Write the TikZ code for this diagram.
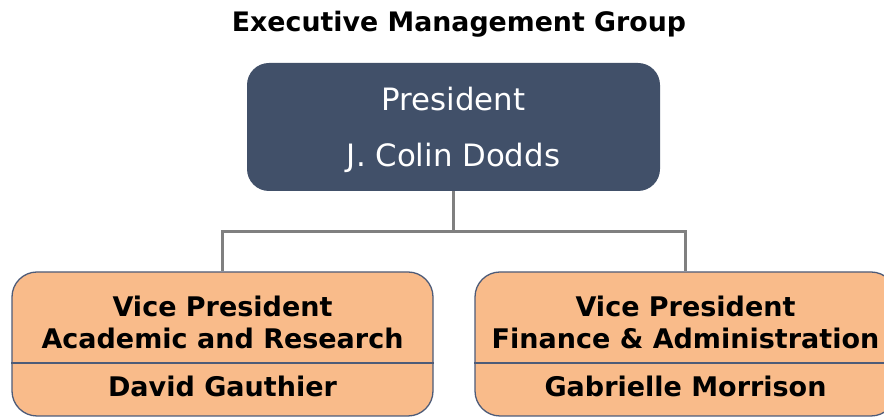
\documentclass[tikz,border=0pt]{standalone}
\usepackage{fontspec}
\setmainfont{DejaVu Sans}
\definecolor{presfill}{HTML}{415069}
\definecolor{vpfill}{HTML}{F9BB8A}
\definecolor{vpdraw}{HTML}{4D5B78}
\definecolor{linkgray}{HTML}{808080}
\tikzset{
  presbox/.style={draw=none, fill=presfill, rounded corners=22pt, minimum width=413pt, minimum height=128pt, inner sep=0pt},
  vpbox/.style={draw=vpdraw, line width=1.3pt, fill=vpfill, rounded corners=25pt, minimum width=421pt, minimum height=144pt, inner sep=0pt},
  link/.style={draw=linkgray, line width=3pt},
  titletext/.style={font=\fontsize{26.8}{32}\selectfont\bfseries, anchor=base, inner sep=0pt},
  prestext/.style={font=\fontsize{30.8}{36}\selectfont, text=white, anchor=base, inner sep=0pt},
  vptext/.style={font=\fontsize{27}{32}\selectfont\bfseries, anchor=base, inner sep=0pt},
  divider/.style={draw=vpdraw, line width=1.3pt}
}
\begin{document}
\begin{tikzpicture}[x=1pt,y=1pt]
\useasboundingbox (0,0) rectangle (884,417);
\clip (0,0) rectangle (884,417);
\node[titletext] (title) at (459,385) {Executive Management Group};
\node[presbox] (pres) at (453.5,290) {};
\node[prestext] (prest) at (453.5,306) {President};
\node[prestext] (presn) at (453.5,250) {J. Colin Dodds};
\node[vpbox] (vpl) at (222.5,73) {};
\node[vpbox] (vpr) at (685.5,73) {};
\coordinate (junc) at (453.5,185);
\draw[link] (pres.south) -- (junc);
\draw[link] (junc) -| (vpl.north);
\draw[link] (junc) -| (vpr.north);
\draw[divider] (vpl.west |- 0,54) -- (vpl.east |- 0,54);
\draw[divider] (vpr.west |- 0,54) -- (vpr.east |- 0,54);
\node[vptext] (vpl1) at (222.5,100) {Vice President};
\node[vptext] (vpl2) at (222.5,68) {Academic and Research};
\node[vptext] (vpl3) at (222.5,20) {David Gauthier};
\node[vptext] (vpr1) at (685.5,100) {Vice President};
\node[vptext] (vpr2) at (685.5,68) {Finance \& Administration};
\node[vptext] (vpr3) at (685.5,20) {Gabrielle Morrison};
\end{tikzpicture}
\end{document}
